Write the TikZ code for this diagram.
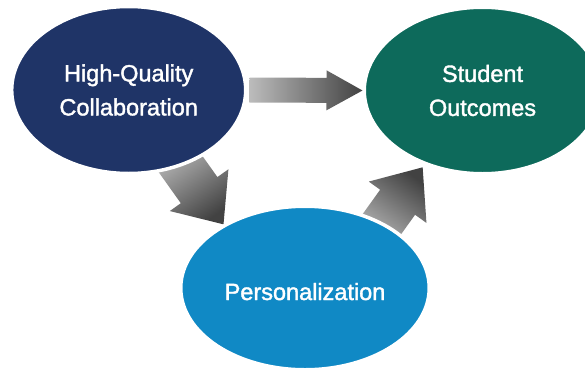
\documentclass[tikz,border=0pt]{standalone}
\usepackage{fontspec}
\setmainfont{Liberation Sans}[FakeBold=1.6]
\usetikzlibrary{shapes.geometric,calc,backgrounds}
\definecolor{hqblue}{RGB}{31,52,103}
\definecolor{soteal}{RGB}{13,106,91}
\definecolor{peblue}{RGB}{16,137,197}
\definecolor{arrowlight}{RGB}{188,188,188}
\definecolor{arrowdark}{RGB}{66,66,66}
\tikzset{bubble/.style={ellipse, draw=white, line width=3.5pt, text=white, align=center,
  inner sep=0pt, font=\fontsize{23.5}{34}\selectfont}}
% tail, tip, shaft half width, head half width, head length, shading angle
\newcommand\blockarrow[6]{%
  \coordinate (ba-t) at (#1);
  \coordinate (ba-e) at (#2);
  \coordinate (ba-h) at ($(ba-e)!#5!(ba-t)$);
  \shade[top color=arrowdark, bottom color=arrowlight, shading angle=#6]
    ($(ba-t)!#3!90:(ba-e)$) -- ($(ba-h)!#3!90:(ba-e)$) -- ($(ba-h)!#4!90:(ba-e)$) -- (ba-e)
    -- ($(ba-h)!#4!-90:(ba-e)$) -- ($(ba-h)!#3!-90:(ba-e)$) -- ($(ba-t)!#3!-90:(ba-e)$) -- cycle;
}
\begin{document}
\begin{tikzpicture}[x=1pt,y=-1pt]
\useasboundingbox (0,0) rectangle (585,369);
\node[bubble, fill=hqblue, minimum width=234pt, minimum height=167pt] (hq) at (128.7,90) {High-Quality\\Collaboration};
\node[bubble, fill=soteal, minimum width=236.5pt, minimum height=166.5pt] (so) at (482.5,90.5) {Student\\Outcomes};
\node[bubble, fill=peblue, minimum width=248.5pt, minimum height=163.5pt, text height=24pt, text depth=0pt] (pe) at (305,288) {Personalization};
\begin{scope}[on background layer]
\blockarrow{$(hq.east)+(2,0)$}{so.west}{12.5pt}{20pt}{36pt}{-90}
\blockarrow{$(hq.-55)!-15pt!(pe.142)$}{pe.142}{22.5pt}{36pt}{42pt}{-145}
\blockarrow{$(pe.40)!-15pt!(so.-128)$}{$(so.-128)!3pt!(pe.40)$}{21.5pt}{35.5pt}{43pt}{-36}
\end{scope}
\end{tikzpicture}
\end{document}
